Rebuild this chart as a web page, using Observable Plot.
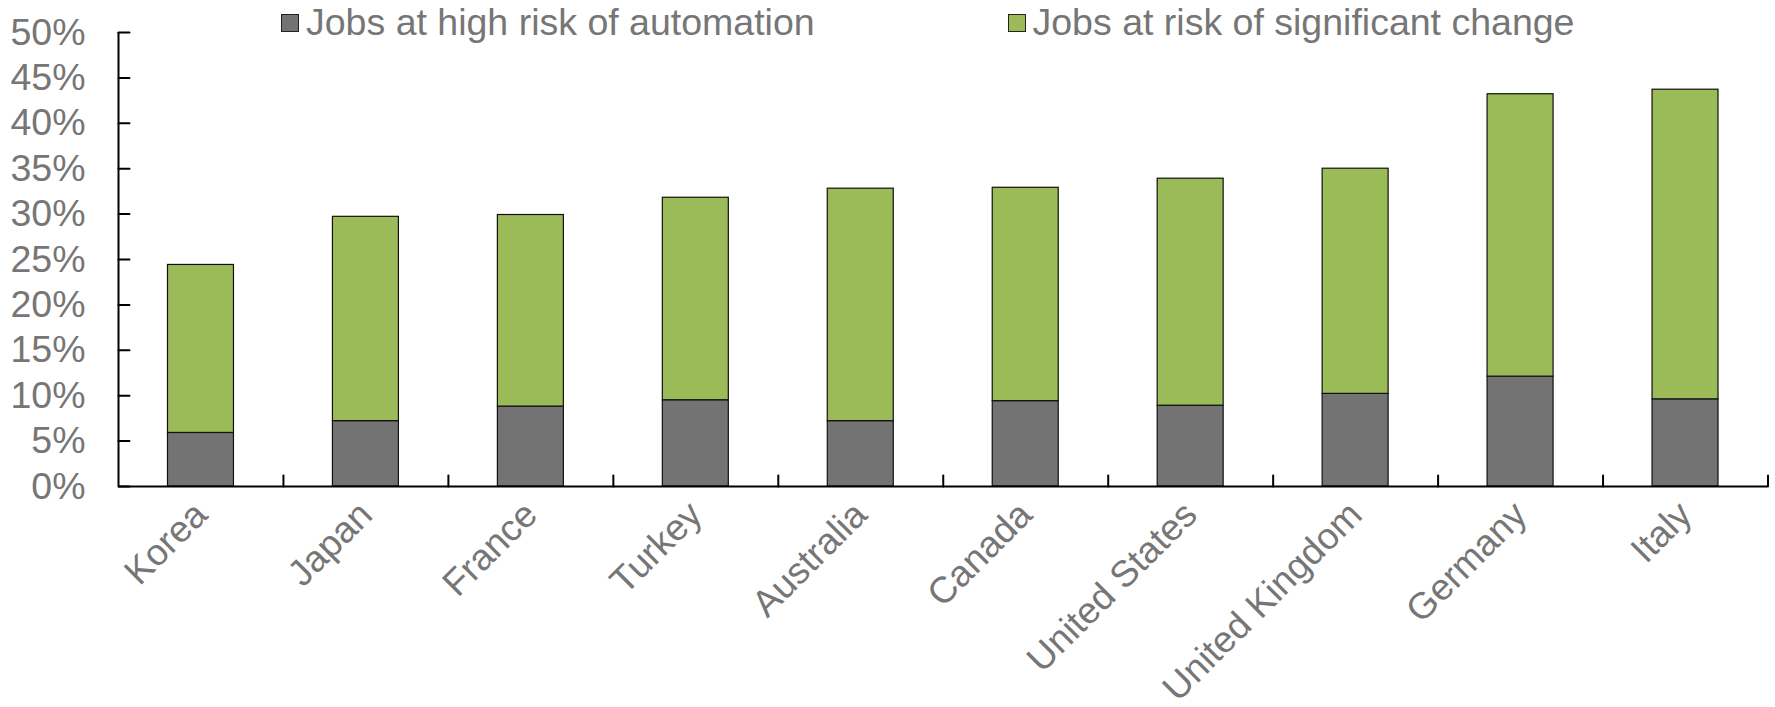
<!DOCTYPE html>
<html>
<head>
<meta charset="utf-8">
<script src="https://cdn.jsdelivr.net/npm/d3@7"></script>
<script src="https://cdn.jsdelivr.net/npm/@observablehq/plot@0.6"></script>
<style>
  html, body { margin: 0; padding: 0; background: #fff; }
  #wrap { position: relative; width: 1775px; height: 707px; font-family: "Liberation Sans", Arial, sans-serif; }
  .legend-item { position: absolute; top: 4px; display: flex; align-items: center; height: 37px; font-size: 37.5px; line-height: 37px; color: #767676; white-space: nowrap; }
  .swatch { width: 16px; height: 16px; border: 1px solid #222; margin-right: 7px; box-sizing: content-box; }
</style>
</head>
<body>
<div id="wrap"></div>
<script>
// ---- Data (percent) ----
const countries = ["Korea", "Japan", "France", "Turkey", "Australia", "Canada", "United States", "United Kingdom", "Germany", "Italy"];
const seriesNames = ["Jobs at high risk of automation", "Jobs at risk of significant change"];
const highRisk = [5.9, 7.2, 8.8, 9.5, 7.2, 9.4, 8.9, 10.2, 12.1, 9.6];
const significantChange = [18.5, 22.5, 21.1, 22.3, 25.6, 23.5, 25.0, 24.8, 31.1, 34.1];
const yTicks = [0, 5, 10, 15, 20, 25, 30, 35, 40, 45, 50];
const seriesColors = ["#737373", "#9BBB59"];

// ---- Layout ----
const W = 1775, H = 707;
const mL = 118, mR = 7.5, mT = 32, mB = 221;
const step = (W - mL - mR) / countries.length;
const textGray = "#767676";

const rows = [];
countries.forEach((c, i) => {
  rows.push({country: c, series: seriesNames[0], value: highRisk[i]});
  rows.push({country: c, series: seriesNames[1], value: significantChange[i]});
});

const lineShape = { draw(context, l) { context.moveTo(0, 0); context.lineTo(0, -l); } };

const chart = Plot.plot({
  width: W,
  height: H,
  marginLeft: mL,
  marginRight: mR,
  marginTop: mT,
  marginBottom: mB,
  style: { fontFamily: "'Liberation Sans', Arial, sans-serif", fontSize: "37px", background: "#fff", color: textGray, overflow: "visible" },
  x: { domain: countries, paddingInner: 0.6, paddingOuter: 0.3, round: false, label: null },
  y: { domain: [yTicks[0], yTicks[yTicks.length - 1]], label: null },
  color: { domain: seriesNames, range: seriesColors },
  marks: [
    Plot.barY(rows, { x: "country", y: "value", fill: "series", stroke: "#111", strokeWidth: 1.2 }),
    Plot.axisY({ ticks: yTicks, tickFormat: d => d + "%", tickSize: 0, tickPadding: 33, fontSize: 37.5, fill: textGray }),
    Plot.axisX({ tickSize: 0, tickRotate: -45, tickPadding: 22, fontSize: 37, fill: textGray }),
    // axis lines
    Plot.ruleY([yTicks[0]], { stroke: "#000", strokeWidth: 2 }),
    Plot.ruleX([countries[0]], { y1: yTicks[0], y2: yTicks[yTicks.length - 1], dx: -step / 2, stroke: "#000", strokeWidth: 2 }),
    // inward ticks
    Plot.vector(yTicks, { y: d => d, frameAnchor: "left", rotate: 90, length: 11, anchor: "start", shape: lineShape, stroke: "#000", strokeWidth: 2 }),
    Plot.vector(countries, { x: d => d, frameAnchor: "bottom", dx: step / 2, length: 11, anchor: "start", shape: lineShape, stroke: "#000", strokeWidth: 2 })
  ]
});

const wrap = document.getElementById("wrap");
wrap.appendChild(chart);

// Legend (HTML overlay above the plot area)
const legendLeft = [281, 1007.5];
seriesNames.forEach((name, i) => {
  const item = document.createElement("div");
  item.className = "legend-item";
  item.style.left = legendLeft[i] + "px";
  const sw = document.createElement("span");
  sw.className = "swatch";
  sw.style.background = seriesColors[i];
  const tx = document.createElement("span");
  tx.textContent = name;
  item.appendChild(sw);
  item.appendChild(tx);
  wrap.appendChild(item);
});
chart.style.position = "absolute";
chart.style.left = "0";
chart.style.top = "0";
</script>
</body>
</html>
